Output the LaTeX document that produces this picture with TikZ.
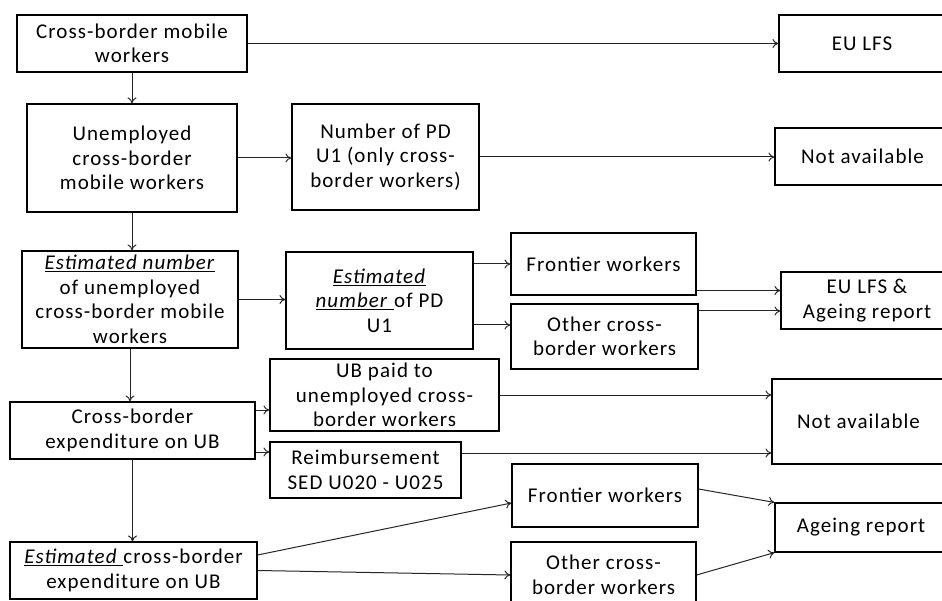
\documentclass[tikz,border=0pt]{standalone}
\usepackage{fontspec}
\setmainfont{Carlito}[LetterSpace=5]
\usetikzlibrary{arrows.meta,positioning}

\begin{document}
\begin{tikzpicture}[
  x=1pt, y=-1pt,
  box/.style={draw, line width=1.2pt, align=center, inner sep=2pt,
    font=\fontsize{21}{24.5}\selectfont},
  flow/.style={-{To[length=6pt,width=9pt]}, line width=1pt, draw=black!85}
]
\useasboundingbox (0,0) rectangle (942,601);

% left column
\node[box, minimum width=230pt, minimum height=57pt] (cbw) at (132,43.5) {Cross-border mobile\\workers};
\node[box, minimum width=210pt, minimum height=108pt] (unemp) at (132,158) {Unemployed\\cross-border\\mobile workers};
\node[box, minimum width=216pt, minimum height=97pt] (estunemp) at (130,299.5) {\underline{\textit{Estimated number}}\\of unemployed\\cross-border mobile\\workers};
\node[box, minimum width=245pt, minimum height=57pt] (cbexp) at (132.5,430.5) {Cross-border\\expenditure on UB};
\node[box, minimum width=247pt, minimum height=57pt] (estexp) at (133.5,570.5) {\underline{\textit{Estimated }}cross-border\\expenditure on UB};

% middle column
\node[box, minimum width=187pt, minimum height=106pt] (numpd) at (385.5,157) {Number of PD\\U1 (only cross-\\border workers)};
\node[box, minimum width=187pt, minimum height=97pt] (estpd) at (379.5,300.5) {\underline{\textit{Estimated}}\\\underline{\textit{number }}of PD\\U1};
\node[box, minimum width=229pt, minimum height=72pt] (ubpaid) at (384.5,395) {UB paid to\\unemployed cross-\\border workers};
\node[box, minimum width=191pt, minimum height=56pt] (reimb) at (365.5,470) {Reimbursement\\SED U020 - U025};

% worker groups
\node[box, minimum width=185pt, minimum height=62pt] (front1) at (603.5,264) {Frontier workers};
\node[box, minimum width=187pt, minimum height=65pt] (other1) at (604.5,336.5) {Other cross-\\border workers};
\node[box, minimum width=186pt, minimum height=63pt] (front2) at (605,495.5) {Frontier workers};
\node[box, minimum width=185pt, minimum height=66pt] (other2) at (603.5,575) {Other cross-\\border workers};

% sources (right column)
\node[box, minimum width=166pt, minimum height=57pt] (eulfs) at (862,43.5) {EU LFS};
\node[box, minimum width=175pt, minimum height=57pt] (na1) at (862.5,156.5) {Not available};
\node[box, minimum width=172pt, minimum height=57pt] (eulfsage) at (867,300.5) {EU LFS \&\\Ageing report};
\node[box, minimum width=173pt, minimum height=85pt] (na2) at (858.5,421.5) {Not available};
\node[box, minimum width=172pt, minimum height=49pt] (ageing) at (861,527.5) {Ageing report};

% straight arrows
\foreach \a/\b in {cbw/eulfs,unemp/numpd,numpd/na1,estunemp/estpd}
  \draw[flow] (\a.east) -- (\a.east -| \b.west);
\foreach \a/\b in {cbw/unemp,unemp/estunemp,estunemp/cbexp,cbexp/estexp}
  \draw[flow] (\a.south) -- (\a.south |- \b.north);

% branches
\draw[flow] (estpd.east |- front1.west) -- (front1.west);
\draw[flow] ([yshift=-24.5pt]estpd.east) -- ([yshift=-24.5pt]estpd.east -| other1.west);
\draw[flow] ([yshift=10pt]eulfsage.west -| front1.east) -- ([yshift=10pt]eulfsage.west);
\draw[flow] ([yshift=-10.5pt]eulfsage.west -| other1.east) -- ([yshift=-10.5pt]eulfsage.west);
\draw[flow] ([yshift=-15pt]ubpaid.west -| cbexp.east) -- ([yshift=-15pt]ubpaid.west);
\draw[flow] ([yshift=18pt]reimb.west -| cbexp.east) -- ([yshift=18pt]reimb.west);
\draw[flow] (ubpaid.east) -- (ubpaid.east -| na2.west);
\draw[flow] ([yshift=17pt]reimb.east) -- ([yshift=17pt]reimb.east -| na2.west);

% slanted arrows
\draw[flow] ([yshift=15.5pt]estexp.east) -- ([yshift=-7.5pt]front2.west);
\draw[flow] (estexp.east) -- (other2.west);
\draw[flow] ([yshift=6.5pt]front2.east) -- (ageing.north west);
\draw[flow] (other2.east) -- (ageing.south west);

\end{tikzpicture}
\end{document}
